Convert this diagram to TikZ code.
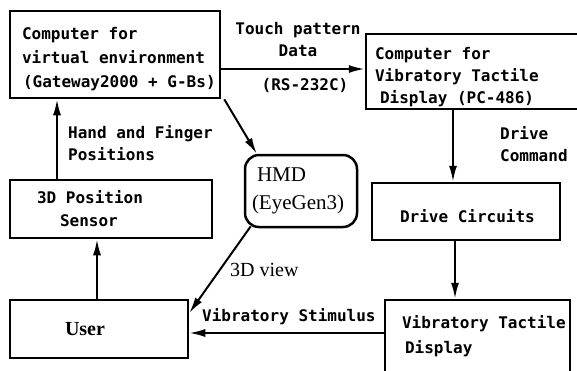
\documentclass[tikz,border=0pt]{standalone}
\usepackage{fontspec}
\setmainfont{Liberation Serif}
\setmonofont{DejaVu Sans Mono}[WordSpace={1,0,0}]
\usetikzlibrary{arrows.meta,calc}
\newcommand{\oneline}[1]{\mbox{#1}}
\begin{document}
\begin{tikzpicture}[x=1pt,y=-1pt,
  box/.style={draw,line width=2.5pt,rectangle,inner ysep=0pt,align=flush left,
    font=\ttfamily\bfseries\fontsize{16}{23}\selectfont},
  lbl/.style={inner sep=0pt,font=\ttfamily\bfseries\fontsize{16}{22}\selectfont},
  arr/.style={line width=2pt,-{Latex[length=16pt,width=8pt]}}]
\useasboundingbox (0,0) rectangle (577,370);

\node[box,minimum width=210pt,minimum height=87pt,inner xsep=12pt,text width=186pt,
  font=\ttfamily\bfseries\fontsize{16}{24}\selectfont]
  (box1) at (115,54.5) {\oneline{\rule{0pt}{22pt}Computer for}\\\oneline{virtual environment}\\\oneline{\hspace*{1pt}(Gateway2000 + G-Bs)}};
\node[box,minimum width=216pt,minimum height=75pt,inner xsep=9pt,text width=198pt,
  font=\ttfamily\bfseries\fontsize{16}{22}\selectfont]
  (box2) at (474,71.5) {\oneline{\rule{0pt}{24pt}Computer for}\\\oneline{Vibratory Tactile}\\\oneline{\hspace*{5pt}Display (PC-486)}};
\node[box,minimum width=202pt,minimum height=58pt,inner xsep=27pt,text width=148pt]
  (sensor) at (111,209) {\oneline{3D Position}\\\oneline{\hspace*{23pt}Sensor}};
\node[box,minimum width=178pt,minimum height=58pt,inner xsep=55pt,text width=68pt,
  font=\rmfamily\bfseries\fontsize{20}{24}\selectfont]
  (user) at (99,329) {User};
\node[box,rounded corners=14pt,minimum width=112pt,minimum height=72pt,inner xsep=7pt,text width=98pt,
  font=\rmfamily\fontsize{21}{28}\selectfont]
  (hmd) at (301,191) {\oneline{\hspace*{5pt}HMD}\\\oneline{(EyeGen3)}};
\node[box,minimum width=188pt,minimum height=57pt,inner xsep=28pt,text width=132pt]
  (drive) at (466,211.5) {\oneline{\rule{0pt}{22pt}Drive Circuits}};
\node[box,minimum width=185pt,minimum height=72pt,inner xsep=17pt,text width=151pt,
  font=\ttfamily\bfseries\fontsize{16}{25}\selectfont]
  (vtd) at (477.5,336) {\oneline{Vibratory Tactile}\\\oneline{\hspace*{3pt}Display}};

\node[lbl,align=flush center] (touch) at (298,40) {Touch pattern\\Data};
\node[lbl] (rs) at (305,85) {(RS-232C)};
\node[lbl,align=flush left,anchor=west] (hand) at (68,143.5) {Hand and Finger\\Positions};
\node[lbl,align=flush left,anchor=west] (dcmd) at (500,144) {Drive\\Command};
\node[lbl,anchor=west] (stim) at (202,317) {Vibratory Stimulus};
\node[inner sep=0pt,anchor=west,font=\rmfamily\fontsize{20}{24}\selectfont] (view) at (230,270) {3D view};

\draw[arr] (box1.east |- 0,69) -- (box2.west |- 0,69);
\draw[arr] ($(box1.south east)+(3,0)$) -- ($(hmd.north west)+(13,0)$);
\draw[arr] ($(hmd.south west)+(7,-2)$) -- (user.east |- 0,313);
\draw[arr] (sensor.north -| 57,0) -- (box1.south -| 57,0);
\draw[arr] (user.north -| 97,0) -- (sensor.south -| 97,0);
\draw[arr] (box2.south -| 453,0) -- (drive.north -| 453,0);
\draw[arr] (drive.south -| 455,0) -- (vtd.north -| 455,0);
\draw[arr] (vtd.west |- 0,333) -- (user.east |- 0,333);
\end{tikzpicture}
\end{document}
